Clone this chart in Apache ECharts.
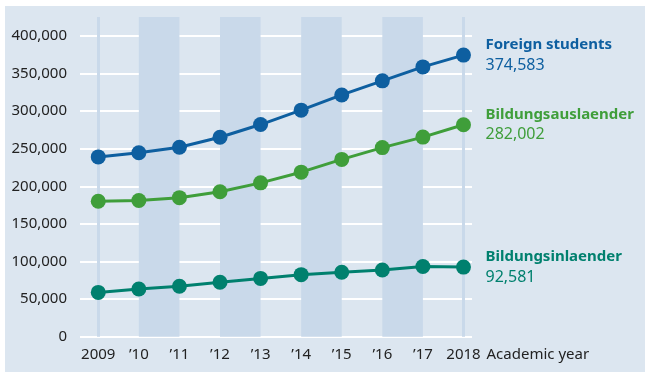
<!DOCTYPE html>
<html><head><meta charset="utf-8">
<script src="https://cdn.jsdelivr.net/npm/echarts@6/dist/echarts.min.js"></script>
<style>html,body{margin:0;padding:0;background:#fff}#c{width:650px;height:380px}</style>
</head><body><div id="c"></div>
<script>
const years = [2009, 2010, 2011, 2012, 2013, 2014, 2015, 2016, 2017, 2018];
const yearLabels = ['2009', '’10', '’11', '’12', '’13', '’14', '’15', '’16', '’17', '2018'];
const foreignStudents = [239143, 244776, 252032, 265292, 282201, 301350, 321569, 340305, 358895, 374583];
const bildungsauslaender = [180222, 181249, 184960, 192853, 204644, 218848, 235858, 251542, 265484, 282002];
const bildungsinlaender = [58921, 63527, 67072, 72439, 77557, 82502, 85711, 88763, 93411, 92581];
const yTicks = [0, 50000, 100000, 150000, 200000, 250000, 300000, 350000, 400000];
const bandPairs = [[2010, 2011], [2012, 2013], [2014, 2015], [2016, 2017]];
const seriesNames = ['Foreign students', 'Bildungsauslaender', 'Bildungsinlaender'];
const xAxisName = 'Academic year';

const FONT = 'Noto Sans';
const colors = ['#0e5fa0', '#3f9e3a', '#00806e'];
const fmt = v => v.toLocaleString('en-US');

const chart = echarts.init(document.getElementById('c'), null, {renderer: 'canvas'});

function mkSeries(name, vals, color, idx) {
  const s = {
    name: name, type: 'line', data: years.map((y, i) => [y, vals[i]]),
    symbol: 'circle', symbolSize: 15, clip: false,
    lineStyle: {color: color, width: 3}, itemStyle: {color: color},
    z: 5,
    endLabel: {
      show: true, distance: 22,
      formatter: p => '{n|' + name + '}\n{v|' + fmt(p.value[1]) + '}',
      rich: {
        n: {fontFamily: FONT, fontWeight: 'bold', fontSize: 15, color: color, lineHeight: 20},
        v: {fontFamily: FONT, fontSize: 16, color: color, lineHeight: 20}
      }
    },
    emphasis: {disabled: true}
  };
  if (idx === 0) {
    s.markArea = {
      silent: true, itemStyle: {color: '#c9d9ea'},
      data: bandPairs.map(b => [{xAxis: b[0]}, {xAxis: b[1]}])
    };
    s.markLine = {
      silent: true, symbol: 'none', label: {show: false},
      lineStyle: {color: '#c9d9ea', width: 3, type: 'solid'},
      data: [{xAxis: years[0]}, {xAxis: years[years.length - 1]}]
    };
  }
  return s;
}

chart.setOption({
  animation: false,
  graphic: [{type: 'rect', shape: {x: 5, y: 6, width: 640, height: 366}, style: {fill: '#dce6f0'}, z: -10}],
  grid: {left: 80, right: 178, top: 17, bottom: 43.3},
  xAxis: {
    type: 'value', min: 2008.55, max: 2018.21,
    name: xAxisName, nameLocation: 'end', nameGap: 14,
    nameTextStyle: {fontFamily: FONT, fontSize: 15, color: '#222', verticalAlign: 'top', padding: [11, 0, 0, 0]},
    axisLine: {show: false}, axisTick: {show: false, customValues: years},
    splitLine: {show: false},
    axisLabel: {customValues: years, margin: 11, fontFamily: FONT, fontSize: 15, color: '#222',
      formatter: v => yearLabels[years.indexOf(Math.round(v))]}
  },
  yAxis: {
    type: 'value', min: 0, max: 425266,
    axisLine: {show: false}, axisTick: {show: false, customValues: yTicks},
    axisLabel: {customValues: yTicks, margin: 13, fontFamily: FONT, fontSize: 15, color: '#222', formatter: v => fmt(v)},
    splitLine: {show: true, lineStyle: {color: '#ffffff', width: 2}}
  },
  series: [
    mkSeries(seriesNames[0], foreignStudents, colors[0], 0),
    mkSeries(seriesNames[1], bildungsauslaender, colors[1], 1),
    mkSeries(seriesNames[2], bildungsinlaender, colors[2], 2)
  ]
});
</script></body></html>
